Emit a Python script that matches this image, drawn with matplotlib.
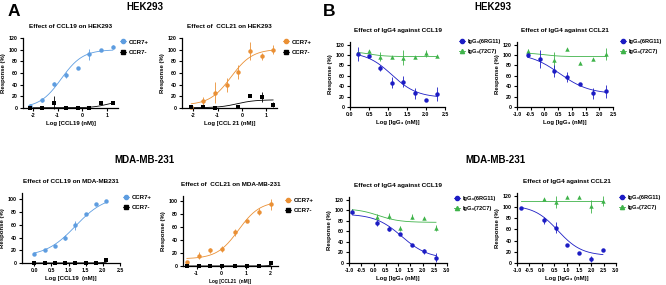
import numpy as np
import matplotlib
matplotlib.use('Agg')
import matplotlib.pyplot as plt
from matplotlib.lines import Line2D

plt.rcParams['font.family'] = ['Liberation Sans', 'DejaVu Sans']
plt.rcParams['font.weight'] = 'bold'
plt.rcParams['axes.labelweight'] = 'bold'

nan = np.nan

# ---------------- Data ----------------
# Panel A, HEK293, CCL19
a1_x = [-2.1, -1.62, -1.15, -0.67, -0.19, 0.28, 0.76, 1.24]
a1_pos = [4, 14, 41, 56, 68, 92, 100, 105]
a1_pos_err = [3, 4, 3, 5, 0, 10, 0, 3]
a1_neg = [0, 0, 9, 0, 0, 0, 9, 8]
a1_neg_err = [0, 0, 11, 0, 0, 0, 0, 0]
a1_fit_pos = [0, 100, -0.85, 1.0]
a1_fit_neg = [0.5, 12, 1.0, 1.5]

# Panel A, HEK293, CCL21
a2_x = [-2.07, -1.6, -1.12, -0.63, -0.16, 0.32, 0.8, 1.27]
a2_pos = [2, 12, 26, 39, 62, 98, 89, 100]
a2_pos_err = [2, 7, 18, 12, 12, 15, 6, 8]
a2_neg = [1, 2, 0, nan, 2, 21, 19, 6]
a2_neg_err = [0, 0, 0, 0, 0, 0, 8, 4]
a2_fit_pos = [5, 101, -0.45, 1.0]
a2_fit_neg = [0.5, 14, -0.2, 1.2]

# Panel A, MDA-MB-231, CCL19
a3_x = [0.0, 0.3, 0.6, 0.9, 1.2, 1.5, 1.8, 2.1]
a3_pos = [14, 20, 26, 40, 59, 77, 92, 98]
a3_pos_err = [0, 0, 0, 4, 7, 0, 0, 0]
a3_neg = [0, 0, 0, 0, 0, 0, 0, 5]
a3_neg_err = [0, 0, 0, 0, 0, 0, 0, 0]
a3_fit_pos = [10, 106, 1.2, 1.0]
a3_fit_neg = [0, 6, 2.3, 3.0]

# Panel A, MDA-MB-231, CCL21
a4_x = [-1.39, -0.92, -0.45, 0.04, 0.54, 1.03, 1.52, 2.01]
a4_pos = [6, 16, 24, 26, 52, 70, 84, 95]
a4_pos_err = [0, 5, 4, 5, 5, 0, 5, 8]
a4_neg = [0, 0, 0, 0, 0, 0, 0, 4]
a4_neg_err = [0, 0, 0, 0, 0, 0, 0, 0]
a4_fit_pos = [11, 100, 0.7, 1.0]
a4_fit_neg = [0, 5, 2.2, 3.0]

# Panel B, HEK293, IgG4 against CCL19
b1_x = [0.2, 0.5, 0.8, 1.1, 1.4, 1.7, 2.0, 2.3]
b1_rg = [102, 98, 75, 47, 49, 26, 13, 25]
b1_rg_err = [13, 0, 5, 11, 10, 10, 0, 13]
b1_c7 = [103, 107, 97, 97, 95, 97, 103, 98]
b1_c7_err = [0, 3, 8, 0, 14, 0, 6, 0]
b1_fit_rg = [18, 106, 1.1, -1.3]
b1_fit_c7 = [97, 107, 0.5, -2.0]

# Panel B, HEK293, IgG4 against CCL21
b2_x = [-0.61, -0.15, 0.34, 0.83, 1.29, 1.78, 2.26]
b2_rg = [100, 92, 69, 58, 45, 26, 30]
b2_rg_err = [3, 17, 11, 10, 0, 11, 12]
b2_c7 = [107, nan, 90, 111, 85, 92, 102]
b2_c7_err = [5, 0, 15, 0, 0, 0, 12]
b2_fit_rg = [25, 104, 0.55, -0.8]
b2_fit_c7 = [97, 104, 0.0, -1.5]

# Panel B, MDA-MB-231, IgG4 against CCL19
b3_x = [-0.86, 0.13, 0.62, 1.08, 1.57, 2.06, 2.55]
b3_rg = [97, 76, 65, 55, 35, 22, 10]
b3_rg_err = [5, 5, 5, 0, 0, 5, 8]
b3_c7 = [99, 87, 89, 66, 88, 86, 66]
b3_c7_err = [0, 5, 6, 5, 5, 0, 6]
b3_fit_rg = [8, 93, 1.15, -0.8]
b3_fit_c7 = [77, 103, 0.2, -1.0]

# Panel B, MDA-MB-231, IgG4 against CCL21
b4_x = [-0.83, 0.11, 0.57, 1.04, 1.51, 2.0, 2.47]
b4_rg = [99, 76, 63, 32, 18, 7, 23]
b4_rg_err = [0, 6, 10, 0, 0, 5, 0]
b4_c7 = [nan, 114, 109, 117, 118, 101, 111]
b4_c7_err = [0, 0, 10, 0, 0, 11, 9]
b4_fit_rg = [13, 103, 0.65, -0.9]
b4_fit_c7 = [110, 110, 0.5, -1.0]

# ---------------- Styling ----------------
C_LBLUE = '#5e9de0'
C_ORANGE = '#ea9035'
C_BLACK = '#000000'
C_DBLUE = '#1c1cc4'
C_GREEN = '#3fb34a'

W, H = 666, 285
fig = plt.figure(figsize=(W / 100, H / 100), dpi=100)


def rect(l, t, r, b):
    return [l / W, 1 - b / H, (r - l) / W, (b - t) / H]


def four_pl(x, p):
    bottom, top, mid, slope = p
    return bottom + (top - bottom) / (1 + 10 ** ((mid - x) * slope))


def style(ax, xlim, ylim, xticks, yticks, xfmt, xlabel, title, xlabel_size=4.3):
    ax.set_xlim(*xlim)
    ax.set_ylim(*ylim)
    ax.set_xticks(xticks)
    ax.set_yticks(yticks)
    ax.set_xticklabels([xfmt.format(v) for v in xticks])
    ax.set_yticklabels([str(v) for v in yticks])
    for s in ['top', 'right']:
        ax.spines[s].set_visible(False)
    for s in ['left', 'bottom']:
        ax.spines[s].set_linewidth(0.9)
    ax.tick_params(axis='both', labelsize=3.8, length=2.2, width=0.8, pad=1.5)
    for lab in ax.get_xticklabels() + ax.get_yticklabels():
        lab.set_fontweight('bold')
    ax.set_xlabel(xlabel, fontsize=xlabel_size, fontweight='bold', labelpad=2)
    ax.set_ylabel('Response (%)', fontsize=4.3, fontweight='bold', labelpad=2)
    ax.set_title(title, fontsize=4.6, fontweight='bold', pad=7)


def series(ax, x, y, err, color, marker, fit, ms=3.2):
    x = np.asarray(x, float)
    y = np.asarray(y, float)
    ok = ~np.isnan(y)
    xs = np.linspace(np.nanmin(x), np.nanmax(x), 200)
    ax.plot(xs, four_pl(xs, fit), color=color, lw=0.6, clip_on=False, zorder=2)
    ax.errorbar(x[ok], y[ok], yerr=np.asarray(err, float)[ok], fmt=marker, color=color,
                ms=ms, elinewidth=0.6, capsize=1.6, capthick=0.6, clip_on=False,
                markeredgewidth=0, zorder=3)


def legend(ax, items, px_left, py_first, fs=4.3):
    handles = [Line2D([0], [0], color=c, marker=m, lw=0.6, ms=3) for c, m, _ in items]
    ax.legend(handles, [t for _, _, t in items], loc='upper left',
              bbox_to_anchor=(px_left / W, 1 - (py_first - 3.3) / H),
              bbox_transform=fig.transFigure,
              frameon=False, fontsize=fs, handlelength=1.0, handletextpad=0.5,
              labelspacing=0.85, borderaxespad=0, borderpad=0)


LEG_A = [('CCR7+', 'o'), ('CCR7-', 's')]

# Panel A top-left
ax = fig.add_axes(rect(23, 38, 118, 108))
series(ax, a1_x, a1_pos, a1_pos_err, C_LBLUE, 'o', a1_fit_pos)
series(ax, a1_x, a1_neg, a1_neg_err, C_BLACK, 's', a1_fit_neg)
style(ax, (-2.4, 1.45), (0, 120), [-2, -1, 0, 1], list(range(0, 121, 20)), '{:d}',
      'Log [CCL19 (nM)]', 'Effect of CCL19 on HEK293')
legend(ax, [(C_LBLUE, 'o', 'CCR7+'), (C_BLACK, 's', 'CCR7-')], 120, 42.7)

# Panel A top-right
ax = fig.add_axes(rect(182, 38, 277, 108))
series(ax, a2_x, a2_pos, a2_pos_err, C_ORANGE, 'o', a2_fit_pos)
series(ax, a2_x, a2_neg, a2_neg_err, C_BLACK, 's', a2_fit_neg)
style(ax, (-2.45, 1.43), (0, 120), [-2, -1, 0, 1], list(range(0, 121, 20)), '{:d}',
      'Log [CCL 21 (nM)]', 'Effect of  CCL21 on HEK293')
legend(ax, [(C_ORANGE, 'o', 'CCR7+'), (C_BLACK, 's', 'CCR7-')], 283, 42.7)

# Panel A bottom-left
ax = fig.add_axes(rect(22, 193, 120, 263))
series(ax, a3_x, a3_pos, a3_pos_err, C_LBLUE, 'o', a3_fit_pos)
series(ax, a3_x, a3_neg, a3_neg_err, C_BLACK, 's', a3_fit_neg)
style(ax, (-0.36, 2.5), (0, 110), [0.0, 0.5, 1.0, 1.5, 2.0, 2.5], list(range(0, 101, 20)), '{:.1f}',
      'Log [CCL19  (nM)]', 'Effect of CCL19 on MDA-MB231')
legend(ax, [(C_LBLUE, 'o', 'CCR7+'), (C_BLACK, 's', 'CCR7-')], 123, 198)

# Panel A bottom-right
ax = fig.add_axes(rect(183, 196, 278, 266))
series(ax, a4_x, a4_pos, a4_pos_err, C_ORANGE, 'o', a4_fit_pos)
series(ax, a4_x, a4_neg, a4_neg_err, C_BLACK, 's', a4_fit_neg)
style(ax, (-1.55, 2.3), (0, 108), [-1, 0, 1, 2], list(range(0, 101, 20)), '{:d}',
      'Log [CCL21  (nM)]', 'Effect of  CCL21 on MDA-MB-231', xlabel_size=3.4)
legend(ax, [(C_ORANGE, 'o', 'CCR7+'), (C_BLACK, 's', 'CCR7-')], 285, 201)

LEG_B = 'IgG₄(6RG11)', 'IgG₄(72C7)'

# Panel B top-left
ax = fig.add_axes(rect(350, 42, 445, 107))
series(ax, b1_x, b1_c7, b1_c7_err, C_GREEN, '^', b1_fit_c7)
series(ax, b1_x, b1_rg, b1_rg_err, C_DBLUE, 'o', b1_fit_rg)
style(ax, (0, 2.5), (0, 125), [0.0, 0.5, 1.0, 1.5, 2.0, 2.5], list(range(0, 121, 20)), '{:.1f}',
      'Log [IgG₄ (nM)]', 'Effect of IgG4 against CCL19')
legend(ax, [(C_DBLUE, 'o', LEG_B[0]), (C_GREEN, '^', LEG_B[1])], 459, 42.7, fs=4.1)

# Panel B top-right
ax = fig.add_axes(rect(517, 42, 613, 107))
series(ax, b2_x, b2_c7, b2_c7_err, C_GREEN, '^', b2_fit_c7)
series(ax, b2_x, b2_rg, b2_rg_err, C_DBLUE, 'o', b2_fit_rg)
style(ax, (-1.0, 2.5), (0, 125), [-1.0, -0.5, 0.0, 0.5, 1.0, 1.5, 2.0, 2.5], list(range(0, 121, 20)),
      '{:.1f}', 'Log [IgG₄ (nM)]', 'Effect of IgG4 against CCL21')
legend(ax, [(C_DBLUE, 'o', LEG_B[0]), (C_GREEN, '^', LEG_B[1])], 620, 42.7, fs=4.1)

# Panel B bottom-left
ax = fig.add_axes(rect(349, 197, 447, 263))
series(ax, b3_x, b3_c7, b3_c7_err, C_GREEN, '^', b3_fit_c7)
series(ax, b3_x, b3_rg, b3_rg_err, C_DBLUE, 'o', b3_fit_rg)
style(ax, (-1.0, 3.0), (0, 125), [-1.0, -0.5, 0.0, 0.5, 1.0, 1.5, 2.0, 2.5, 3.0],
      list(range(0, 121, 20)), '{:.1f}', 'Log [IgG₄ (nM)]', 'Effect of IgG4 against CCL19')
legend(ax, [(C_DBLUE, 'o', LEG_B[0]), (C_GREEN, '^', LEG_B[1])], 454, 199, fs=4.1)

# Panel B bottom-right
ax = fig.add_axes(rect(517, 193, 616, 263))
series(ax, b4_x, b4_c7, b4_c7_err, C_GREEN, '^', b4_fit_c7)
series(ax, b4_x, b4_rg, b4_rg_err, C_DBLUE, 'o', b4_fit_rg)
style(ax, (-1.0, 3.0), (0, 125), [-1.0, -0.5, 0.0, 0.5, 1.0, 1.5, 2.0, 2.5, 3.0],
      list(range(0, 121, 20)), '{:.1f}', 'Log [IgG₄ (nM)]', 'Effect of IgG4 against CCL21')
legend(ax, [(C_DBLUE, 'o', LEG_B[0]), (C_GREEN, '^', LEG_B[1])], 619, 198, fs=4.1)

# Panel letters and headings
fig.text(13.5 / W, 1 - 11 / H, 'A', fontsize=12.5, fontweight='bold', ha='center', va='center')
fig.text(329 / W, 1 - 12 / H, 'B', fontsize=12.5, fontweight='bold', ha='center', va='center')
fig.text(145 / W, 1 - 7 / H, 'HEK293', fontsize=7, fontweight='bold', ha='center', va='center')
fig.text(493 / W, 1 - 7 / H, 'HEK293', fontsize=7, fontweight='bold', ha='center', va='center')
fig.text(144 / W, 1 - 160 / H, 'MDA-MB-231', fontsize=7, fontweight='bold', ha='center', va='center')
fig.text(495 / W, 1 - 160 / H, 'MDA-MB-231', fontsize=7, fontweight='bold', ha='center', va='center')

fig.savefig('out.png', dpi=100)
